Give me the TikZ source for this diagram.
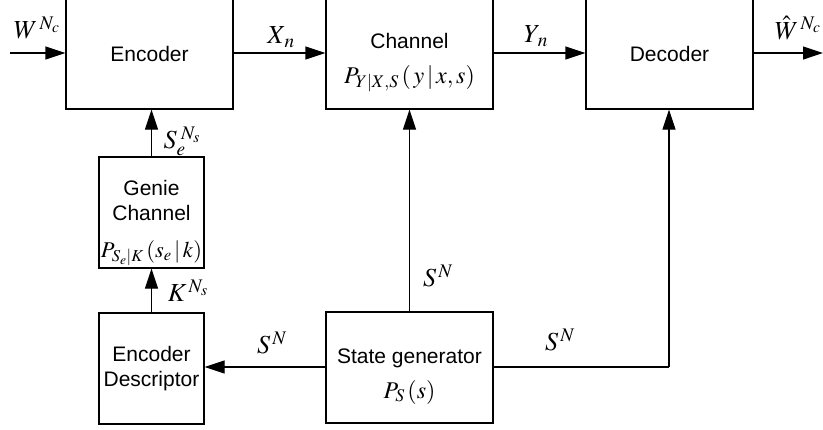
\documentclass[tikz,border=0pt]{standalone}
\usepackage{mathptmx}
\usepackage[no-math]{fontspec}
\setsansfont{Liberation Sans}
\usetikzlibrary{arrows.meta}
\begin{document}
\begin{tikzpicture}[x=1pt,y=-1pt,
  blk/.style={draw,line width=1.2pt,inner sep=0pt,align=center,font=\sffamily\fontsize{21}{25}\selectfont},
  txt/.style={inner sep=0pt,anchor=base,font=\sffamily\fontsize{21}{25}\selectfont},
  mth/.style={inner sep=0pt,anchor=base,font=\fontsize{24}{26}\selectfont},
  conn/.style={line width=1.2pt,-{Triangle[length=20pt,width=13pt]}},
  wire/.style={line width=1.2pt},
  lbl/.style={inner sep=0pt,font=\fontsize{26}{30}\selectfont}]
\useasboundingbox (0,0) rectangle (823,429);
% boxes
\node[blk,minimum width=167pt,minimum height=111pt] (enc) at (149.5,53.5) {Encoder};
\node[blk,minimum width=167pt,minimum height=111pt] (chan) at (409.5,53.5) {};
\node[blk,minimum width=167pt,minimum height=111pt] (dec) at (669.5,53.5) {Decoder};
\node[blk,minimum width=105pt,minimum height=111pt] (genie) at (151.5,212.5) {};
\node[blk,minimum width=105pt,minimum height=111pt] (desc) at (151.5,368.5) {Encoder\\Descriptor};
\node[blk,minimum width=167pt,minimum height=111pt] (sg) at (409.5,367.5) {};
% box texts
\node[txt] (chant) at (409.5,48) {Channel};
\node[mth] (chanp) at (409.5,83) {$P_{Y|X,S}\,(\,y\,|\,x,s)$};
\node[txt] (geniet1) at (151.5,195) {Genie};
\node[txt] (geniet2) at (151.5,220) {Channel};
\node[mth,font=\fontsize{22.5}{26}\selectfont] (geniep) at (151.5,257) {$P_{S_e|K}\,(s_e\,|\,k)$};
\node[txt] (sgt) at (409.5,363) {State generator};
\node[mth] (sgp) at (409.5,398) {$P_S\,(s)$};
% free ends
\coordinate (win) at (10,53);
\coordinate (wout) at (823,53);
\coordinate (corner) at (669,367);
% connectors
\draw[conn] (win) -- (enc.west|-win);
\draw[conn] (enc.east|-win) -- (chan.west|-win);
\draw[conn] (chan.east|-win) -- (dec.west|-win);
\draw[conn] (dec.east|-win) -- (wout);
\draw[conn] (genie.north) -- (enc.south-|genie.north);
\draw[conn] (desc.north) -- (genie.south);
\draw[conn] (sg.west|-corner) -- (desc.east|-corner);
\draw[conn] (sg.north) -- (chan.south);
\draw[wire] (sg.east|-corner) -- (corner);
\draw[conn] (corner) -- (dec.south-|corner);
% labels
\node[lbl] (lw) at (37,28) {$W^{\,N_c}$};
\node[lbl] (lx) at (281,37) {$X_{\,n}$};
\node[lbl] (ly) at (536,36) {$Y_{\,n}$};
\node[lbl] (lwh) at (798,28) {$\hat{W}^{\,N_c}$};
\node[lbl] (lse) at (182,141) {$S_e^{\;N_s}$};
\node[lbl] (lk) at (188,291) {$K^{\,N_s}$};
\node[lbl] (ls1) at (272,343) {$S^{\,N}$};
\node[lbl] (ls2) at (438,276) {$S^{\,N}$};
\node[lbl] (ls3) at (560,340) {$S^{\,N}$};
\end{tikzpicture}
\end{document}
